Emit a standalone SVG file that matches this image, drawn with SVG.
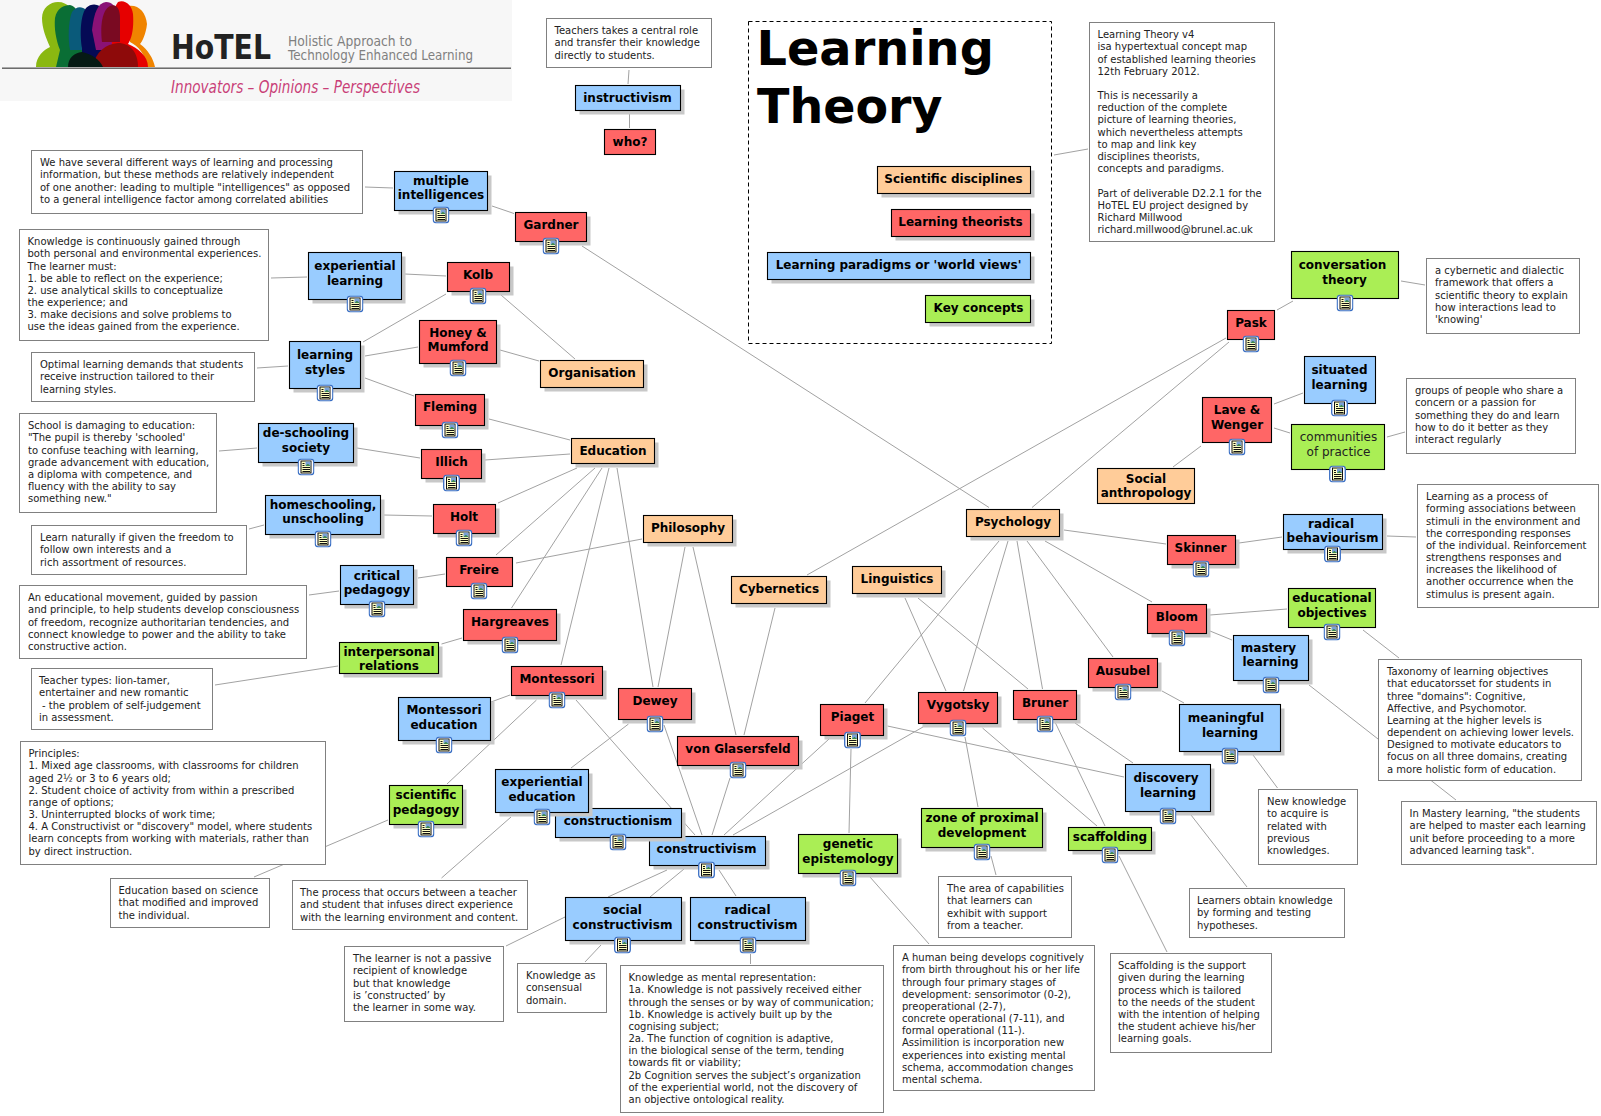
<svg xmlns="http://www.w3.org/2000/svg" width="1601" height="1116" viewBox="0 0 1601 1116">
<style>
text{font-family:"DejaVu Sans","Liberation Sans",sans-serif}
.t{font-size:12px;font-weight:bold;text-anchor:middle;fill:#000}
.tn{font-size:12px;text-anchor:middle;fill:#222}
.x{font-size:10px;fill:#222}
.note{fill:#fff;stroke:#808080;stroke-width:1}
.sh{fill:#c8c8c8}
.b,.r,.o,.g{stroke:#000;stroke-width:1.1}
.b{fill:#99ccff}.r{fill:#ff6666}.o{fill:#ffcc99}.g{fill:#aaee55}
#connectors line{stroke:#a2a2a2;stroke-width:1}
</style>
<defs>
<symbol id="ic" viewBox="0 0 17 17" width="17" height="17">
<rect x="0.7" y="0.7" width="15.6" height="15.6" rx="3" fill="#fff" stroke="#3a6fc4" stroke-width="1.3"/>
<rect x="3.5" y="2.5" width="10" height="12" fill="#ffffc0" stroke="#111" stroke-width="1"/>
<rect x="8" y="3" width="5" height="4.6" fill="#7aa0d8"/>
<path d="M8 7.600l2.400-2.400 2.600 2.400z" fill="#3e8a4a"/>
<path d="M5 5h2M5 7h2M5 9h7.500M5 11h7.500M5 13h7.500" stroke="#111" stroke-width="1"/>
</symbol>
</defs>
<rect width="1601" height="1116" fill="#fff"/>
<g id="logo">
<rect x="0" y="0" width="512" height="101" fill="#f7f7f7"/>
<path d="M36 67C36 56 44 50 50 47C46 38 42 28 42 18C42 8 50 2 58 2C68 2 74 10 74 20L74 67Z" fill="#8ab811"/>
<path d="M56 67L60 50C56 40 54 28 55 18C57 8 64 5 70 5C76 6 80 14 80 24L84 67Z" fill="#0a6e35"/>
<path d="M70 50C68 40 68 22 72 12C76 6 82 6 86 10L92 50Z" fill="#0a5a7a"/>
<path d="M82 67V48C80 36 80 16 86 8C92 2 100 4 104 10L110 67Z" fill="#050a55"/>
<path d="M96 50L92 30C94 12 98 3 106 2C112 2 116 6 116 14L116 50Z" fill="#8a1276"/>
<path d="M128 6C138 4 146 12 147 24C146 34 142 42 140 44C148 50 153 58 155 67H146C146 54 138 46 130 42Z" fill="#f08400"/>
<path d="M112 44C110 30 112 10 118 2C124 -1 132 4 133 14C134 28 132 38 128 44C138 48 148 56 148 67H112Z" fill="#e60000"/>
<path d="M102 42C100 26 102 10 110 6C116 3 120 8 120 18L120 42Z" fill="#7a0a22"/>
<path d="M93 67C95 52 106 44 118 43C130 43 138 52 138 67Z" fill="#8e0a0a"/>
<path d="M68 67C68 58 74 53 82 52C92 54 100 60 103 67Z" fill="#061a14"/>
<rect x="2" y="67.500" width="509" height="1.400" fill="#5c5c5c"/>
<text x="171" y="59" font-family="Lato,'Open Sans',sans-serif" font-size="33" font-weight="bold" fill="#222" textLength="100" lengthAdjust="spacingAndGlyphs">HoTEL</text>
<text x="288" y="46" font-family="'Open Sans',sans-serif" font-size="14" fill="#808080" textLength="124" lengthAdjust="spacingAndGlyphs">Holistic Approach to</text>
<text x="288" y="60" font-family="'Open Sans',sans-serif" font-size="14" fill="#808080" textLength="185" lengthAdjust="spacingAndGlyphs">Technology Enhanced Learning</text>
<text x="171" y="93" font-family="'Open Sans',sans-serif" font-style="italic" font-size="17" fill="#c93f78" textLength="249" lengthAdjust="spacingAndGlyphs">Innovators – Opinions – Perspectives</text>
</g>
<g id="connectors">
<line x1="365" y1="187" x2="393" y2="188"/>
<line x1="492" y1="206" x2="514" y2="213.500"/>
<line x1="582" y1="246" x2="989" y2="507.500"/>
<line x1="405" y1="274" x2="446" y2="276"/>
<line x1="271" y1="278" x2="307" y2="277"/>
<line x1="446" y1="294" x2="363" y2="342"/>
<line x1="501" y1="295" x2="575" y2="359"/>
<line x1="365" y1="356" x2="418" y2="347"/>
<line x1="500" y1="350" x2="539" y2="361"/>
<line x1="365" y1="378" x2="414" y2="396"/>
<line x1="257" y1="368" x2="288" y2="366"/>
<line x1="489" y1="419" x2="570" y2="440"/>
<line x1="219" y1="451" x2="257" y2="448"/>
<line x1="357" y1="448" x2="420" y2="458"/>
<line x1="485" y1="460" x2="570" y2="454"/>
<line x1="249" y1="529" x2="264" y2="525"/>
<line x1="384" y1="515" x2="432" y2="516"/>
<line x1="498" y1="503" x2="577" y2="468"/>
<line x1="496" y1="555" x2="595" y2="468"/>
<line x1="511.500" y1="608" x2="602" y2="468"/>
<line x1="561" y1="665" x2="609" y2="468"/>
<line x1="653" y1="687" x2="617" y2="468"/>
<line x1="516" y1="563" x2="642" y2="539"/>
<line x1="658" y1="687" x2="685" y2="547"/>
<line x1="736" y1="735" x2="693" y2="547"/>
<line x1="744" y1="735" x2="775" y2="608"/>
<line x1="807" y1="575" x2="1226" y2="338"/>
<line x1="1032" y1="507.500" x2="1229" y2="342"/>
<line x1="418" y1="578" x2="445" y2="574"/>
<line x1="309" y1="595" x2="339" y2="591"/>
<line x1="441.500" y1="644" x2="462" y2="638"/>
<line x1="215" y1="685" x2="338" y2="666"/>
<line x1="491" y1="702" x2="510" y2="695"/>
<line x1="447" y1="784" x2="536.500" y2="700"/>
<line x1="254" y1="877" x2="388" y2="820"/>
<line x1="441.500" y1="878" x2="511" y2="817"/>
<line x1="571" y1="768" x2="628.500" y2="724"/>
<line x1="664" y1="725" x2="702" y2="835"/>
<line x1="576" y1="700" x2="695" y2="835"/>
<line x1="730" y1="778" x2="712" y2="835"/>
<line x1="829" y1="739" x2="724" y2="835"/>
<line x1="923" y1="727" x2="733" y2="835"/>
<line x1="608" y1="897" x2="667" y2="870"/>
<line x1="650" y1="897" x2="684" y2="869"/>
<line x1="736" y1="896" x2="719" y2="870"/>
<line x1="506" y1="946" x2="565" y2="917"/>
<line x1="585" y1="962" x2="601" y2="945"/>
<line x1="750.500" y1="964" x2="750.500" y2="954"/>
<line x1="851" y1="749" x2="849" y2="833"/>
<line x1="870" y1="877" x2="929" y2="944"/>
<line x1="965" y1="737" x2="978" y2="807"/>
<line x1="991" y1="856" x2="996" y2="875"/>
<line x1="982.500" y1="728" x2="1097" y2="826"/>
<line x1="1055" y1="722" x2="1105" y2="826"/>
<line x1="1075" y1="723" x2="1133" y2="763"/>
<line x1="887.500" y1="726" x2="1124" y2="777"/>
<line x1="1119" y1="856" x2="1167" y2="952"/>
<line x1="1191" y1="815" x2="1247" y2="887"/>
<line x1="1253" y1="755" x2="1277.500" y2="788"/>
<line x1="1162" y1="691" x2="1184" y2="703"/>
<line x1="1027" y1="541" x2="1113" y2="657"/>
<line x1="1045" y1="541" x2="1152" y2="602"/>
<line x1="1064" y1="530" x2="1166" y2="544"/>
<line x1="1239" y1="543" x2="1282" y2="537"/>
<line x1="1387" y1="536" x2="1416" y2="537"/>
<line x1="1210" y1="615" x2="1287" y2="609"/>
<line x1="1210" y1="631" x2="1232" y2="640"/>
<line x1="1363" y1="630" x2="1399" y2="658"/>
<line x1="1309" y1="685" x2="1456" y2="800"/>
<line x1="1173" y1="467" x2="1201" y2="446"/>
<line x1="1274" y1="404" x2="1303" y2="393"/>
<line x1="1274" y1="428" x2="1290" y2="433"/>
<line x1="1387" y1="437" x2="1405" y2="432"/>
<line x1="1277" y1="310" x2="1293" y2="301"/>
<line x1="1401" y1="281" x2="1425" y2="285"/>
<line x1="1054" y1="155" x2="1088" y2="149"/>
<line x1="629" y1="70" x2="628" y2="84"/>
<line x1="629.500" y1="114" x2="629.500" y2="128"/>
<line x1="999" y1="541" x2="865" y2="703"/>
<line x1="1008" y1="541" x2="963.500" y2="691"/>
<line x1="1017" y1="541" x2="1042.500" y2="689"/>
<line x1="905" y1="598" x2="946" y2="691"/>
<line x1="918" y1="598" x2="1028" y2="689"/>
</g>
<g id="legend">
<rect x="748.500" y="21.500" width="303" height="322" fill="none" stroke="#000" stroke-width="1" stroke-dasharray="4 3"/>
<text x="756.500" y="65" font-size="47.800" font-weight="bold" fill="#000">Learning</text>
<text x="757" y="123" font-size="47.500" font-weight="bold" fill="#000">Theory</text>
</g>
<g id="legend-disciplines"><rect class="sh" x="881.500" y="170.500" width="153" height="27"/><rect class="o" x="877.500" y="166.500" width="153" height="27"/><text class="t" x="953.500" y="183">Scientific disciplines</text></g>
<g id="legend-theorists"><rect class="sh" x="895.500" y="213.500" width="139" height="27"/><rect class="r" x="891.500" y="209.500" width="139" height="27"/><text class="t" x="960.500" y="226">Learning theorists</text></g>
<g id="legend-paradigms"><rect class="sh" x="771.500" y="256.500" width="263" height="27"/><rect class="b" x="767.500" y="252.500" width="263" height="27"/><text class="t" x="898.500" y="269">Learning paradigms or 'world views'</text></g>
<g id="legend-concepts"><rect class="sh" x="929.500" y="299.500" width="105" height="27"/><rect class="g" x="925.500" y="295.500" width="105" height="27"/><text class="t" x="978.500" y="312">Key concepts</text></g>

<g id="note-lt"><rect class="note" x="1089.500" y="22.500" width="185" height="219"/><text class="x" y="22.500"><tspan x="1097.500" dy="15.800">Learning Theory v4</tspan><tspan x="1097.500" dy="12.170">isa hypertextual concept map</tspan><tspan x="1097.500" dy="12.170">of established learning theories</tspan><tspan x="1097.500" dy="12.170">12th February 2012.</tspan><tspan x="1097.500" dy="24.340">This is necessarily a</tspan><tspan x="1097.500" dy="12.170">reduction of the complete</tspan><tspan x="1097.500" dy="12.170">picture of learning theories,</tspan><tspan x="1097.500" dy="12.170">which nevertheless attempts</tspan><tspan x="1097.500" dy="12.170">to map and link key</tspan><tspan x="1097.500" dy="12.170">disciplines theorists,</tspan><tspan x="1097.500" dy="12.170">concepts and paradigms.</tspan><tspan x="1097.500" dy="24.340">Part of deliverable D2.2.1 for the</tspan><tspan x="1097.500" dy="12.170">HoTEL EU project designed by</tspan><tspan x="1097.500" dy="12.170">Richard Millwood</tspan><tspan x="1097.500" dy="12.170">richard.millwood@brunel.ac.uk</tspan></text></g>
<g id="note-teachers"><rect class="note" x="546.500" y="18.500" width="165" height="49"/><text class="x" y="18.500"><tspan x="554.500" dy="15.800">Teachers takes a central role</tspan><tspan x="554.500" dy="12.170">and transfer their knowledge</tspan><tspan x="554.500" dy="12.170">directly to students.</tspan></text></g>
<g id="note-mi"><rect class="note" x="31.500" y="150.500" width="331" height="63"/><text class="x" y="150.500"><tspan x="40" dy="15.800">We have several different ways of learning and processing</tspan><tspan x="40" dy="12.170">information, but these methods are relatively independent</tspan><tspan x="40" dy="12.170">of one another: leading to multiple "intelligences" as opposed</tspan><tspan x="40" dy="12.170">to a general intelligence factor among correlated abilities</tspan></text></g>
<g id="note-exp"><rect class="note" x="19.500" y="229.500" width="249" height="111"/><text class="x" y="229.500"><tspan x="27.500" dy="15.800">Knowledge is continuously gained through</tspan><tspan x="27.500" dy="12.170">both personal and environmental experiences.</tspan><tspan x="27.500" dy="12.170">The learner must:</tspan><tspan x="27.500" dy="12.170">1. be able to reflect on the experience;</tspan><tspan x="27.500" dy="12.170">2. use analytical skills to conceptualize</tspan><tspan x="27.500" dy="12.170">the experience; and</tspan><tspan x="27.500" dy="12.170">3. make decisions and solve problems to</tspan><tspan x="27.500" dy="12.170">use the ideas gained from the experience.</tspan></text></g>
<g id="note-styles"><rect class="note" x="31.500" y="352.500" width="223" height="49"/><text class="x" y="352.500"><tspan x="40" dy="15.800">Optimal learning demands that students</tspan><tspan x="40" dy="12.170">receive instruction tailored to their</tspan><tspan x="40" dy="12.170">learning styles.</tspan></text></g>
<g id="note-school"><rect class="note" x="19.500" y="413.500" width="197" height="99"/><text class="x" y="413.500"><tspan x="28" dy="15.800">School is damaging to education:</tspan><tspan x="28" dy="12.170">"The pupil is thereby 'schooled'</tspan><tspan x="28" dy="12.170">to confuse teaching with learning,</tspan><tspan x="28" dy="12.170">grade advancement with education,</tspan><tspan x="28" dy="12.170">a diploma with competence, and</tspan><tspan x="28" dy="12.170">fluency with the ability to say</tspan><tspan x="28" dy="12.170">something new."</tspan></text></g>
<g id="note-home"><rect class="note" x="31.500" y="525.500" width="215" height="49"/><text class="x" y="525.500"><tspan x="40" dy="15.800">Learn naturally if given the freedom to</tspan><tspan x="40" dy="12.170">follow own interests and a</tspan><tspan x="40" dy="12.170">rich assortment of resources.</tspan></text></g>
<g id="note-critical"><rect class="note" x="19.500" y="585.500" width="287" height="73"/><text class="x" y="585.500"><tspan x="28" dy="15.800">An educational movement, guided by passion</tspan><tspan x="28" dy="12.170">and principle, to help students develop consciousness</tspan><tspan x="28" dy="12.170">of freedom, recognize authoritarian tendencies, and</tspan><tspan x="28" dy="12.170">connect knowledge to power and the ability to take</tspan><tspan x="28" dy="12.170">constructive action.</tspan></text></g>
<g id="note-teacher"><rect class="note" x="31.500" y="668.500" width="181" height="61"/><text class="x" y="668.500"><tspan x="39" dy="15.800">Teacher types: lion-tamer,</tspan><tspan x="39" dy="12.170">entertainer and new romantic</tspan><tspan x="42" dy="12.170">- the problem of self-judgement</tspan><tspan x="39" dy="12.170">in assessment.</tspan></text></g>
<g id="note-principles"><rect class="note" x="20.500" y="741.500" width="305" height="123"/><text class="x" y="741.500"><tspan x="28.500" dy="15.800">Principles:</tspan><tspan x="28.500" dy="12.170">1. Mixed age classrooms, with classrooms for children</tspan><tspan x="28.500" dy="12.170">aged 2½ or 3 to 6 years old;</tspan><tspan x="28.500" dy="12.170">2. Student choice of activity from within a prescribed</tspan><tspan x="28.500" dy="12.170">range of options;</tspan><tspan x="28.500" dy="12.170">3. Uninterrupted blocks of work time;</tspan><tspan x="28.500" dy="12.170">4. A Constructivist or "discovery" model, where students</tspan><tspan x="28.500" dy="12.170">learn concepts from working with materials, rather than</tspan><tspan x="28.500" dy="12.170">by direct instruction.</tspan></text></g>
<g id="note-science"><rect class="note" x="110.500" y="878.500" width="159" height="49"/><text class="x" y="878.500"><tspan x="118.500" dy="15.800">Education based on science</tspan><tspan x="118.500" dy="12.170">that modified and improved</tspan><tspan x="118.500" dy="12.170">the individual.</tspan></text></g>
<g id="note-process"><rect class="note" x="292.500" y="880.500" width="235" height="49"/><text class="x" y="880.500"><tspan x="300" dy="15.800">The process that occurs between a teacher</tspan><tspan x="300" dy="12.170">and student that infuses direct experience</tspan><tspan x="300" dy="12.170">with the learning environment and content.</tspan></text></g>
<g id="note-learner"><rect class="note" x="344.500" y="946.500" width="159" height="75"/><text class="x" y="946.500"><tspan x="353" dy="15.800">The learner is not a passive</tspan><tspan x="353" dy="12.170">recipient of knowledge</tspan><tspan x="353" dy="12.170">but that knowledge</tspan><tspan x="353" dy="12.170">is ’constructed’ by</tspan><tspan x="353" dy="12.170">the learner in some way.</tspan></text></g>
<g id="note-consensual"><rect class="note" x="517.500" y="963.500" width="89" height="49"/><text class="x" y="963.500"><tspan x="526" dy="15.800">Knowledge as</tspan><tspan x="526" dy="12.170">consensual</tspan><tspan x="526" dy="12.170">domain.</tspan></text></g>
<g id="note-mental"><rect class="note" x="620.500" y="965.500" width="263" height="147"/><text class="x" y="965.500"><tspan x="628.500" dy="15.800">Knowledge as mental representation:</tspan><tspan x="628.500" dy="12.170">1a. Knowledge is not passively received either</tspan><tspan x="628.500" dy="12.170">through the senses or by way of communication;</tspan><tspan x="628.500" dy="12.170">1b. Knowledge is actively built up by the</tspan><tspan x="628.500" dy="12.170">cognising subject;</tspan><tspan x="628.500" dy="12.170">2a. The function of cognition is adaptive,</tspan><tspan x="628.500" dy="12.170">in the biological sense of the term, tending</tspan><tspan x="628.500" dy="12.170">towards fit or viability;</tspan><tspan x="628.500" dy="12.170">2b Cognition serves the subject’s organization</tspan><tspan x="628.500" dy="12.170">of the experiential world, not the discovery of</tspan><tspan x="628.500" dy="12.170">an objective ontological reality.</tspan></text></g>
<g id="note-human"><rect class="note" x="893.500" y="945.500" width="201" height="145"/><text class="x" y="945.500"><tspan x="902" dy="15.800">A human being develops cognitively</tspan><tspan x="902" dy="12.170">from birth throughout his or her life</tspan><tspan x="902" dy="12.170">through four primary stages of</tspan><tspan x="902" dy="12.170">development: sensorimotor (0-2),</tspan><tspan x="902" dy="12.170">preoperational (2-7),</tspan><tspan x="902" dy="12.170">concrete operational (7-11), and</tspan><tspan x="902" dy="12.170">formal operational (11-).</tspan><tspan x="902" dy="12.170">Assimilition is incorporation new</tspan><tspan x="902" dy="12.170">experiences into existing mental</tspan><tspan x="902" dy="12.170">schema, accommodation changes</tspan><tspan x="902" dy="12.170">mental schema.</tspan></text></g>
<g id="note-area"><rect class="note" x="938.500" y="876.500" width="133" height="61"/><text class="x" y="876.500"><tspan x="947" dy="15.800">The area of capabilities</tspan><tspan x="947" dy="12.170">that learners can</tspan><tspan x="947" dy="12.170">exhibit with support</tspan><tspan x="947" dy="12.170">from a teacher.</tspan></text></g>
<g id="note-scaffold"><rect class="note" x="1110.500" y="953.500" width="161" height="99"/><text class="x" y="953.500"><tspan x="1118" dy="15.800">Scaffolding is the support</tspan><tspan x="1118" dy="12.170">given during the learning</tspan><tspan x="1118" dy="12.170">process which is tailored</tspan><tspan x="1118" dy="12.170">to the needs of the student</tspan><tspan x="1118" dy="12.170">with the intention of helping</tspan><tspan x="1118" dy="12.170">the student achieve his/her</tspan><tspan x="1118" dy="12.170">learning goals.</tspan></text></g>
<g id="note-discovery"><rect class="note" x="1189.500" y="888.500" width="155" height="49"/><text class="x" y="888.500"><tspan x="1197" dy="15.800">Learners obtain knowledge</tspan><tspan x="1197" dy="12.170">by forming and testing</tspan><tspan x="1197" dy="12.170">hypotheses.</tspan></text></g>
<g id="note-new"><rect class="note" x="1258.500" y="789.500" width="99" height="75"/><text class="x" y="789.500"><tspan x="1267" dy="15.800">New knowledge</tspan><tspan x="1267" dy="12.170">to acquire is</tspan><tspan x="1267" dy="12.170">related with</tspan><tspan x="1267" dy="12.170">previous</tspan><tspan x="1267" dy="12.170">knowledges.</tspan></text></g>
<g id="note-taxonomy"><rect class="note" x="1378.500" y="659.500" width="203" height="121"/><text class="x" y="659.500"><tspan x="1387" dy="15.800">Taxonomy of learning objectives</tspan><tspan x="1387" dy="12.170">that educatorsset for students in</tspan><tspan x="1387" dy="12.170">three "domains": Cognitive,</tspan><tspan x="1387" dy="12.170">Affective, and Psychomotor.</tspan><tspan x="1387" dy="12.170">Learning at the higher levels is</tspan><tspan x="1387" dy="12.170">dependent on achieving lower levels.</tspan><tspan x="1387" dy="12.170">Designed to motivate educators to</tspan><tspan x="1387" dy="12.170">focus on all three domains, creating</tspan><tspan x="1387" dy="12.170">a more holistic form of education.</tspan></text></g>
<g id="note-mastery"><rect class="note" x="1401.500" y="801.500" width="195" height="63"/><text class="x" y="801.500"><tspan x="1409.500" dy="15.800">In Mastery learning, "the students</tspan><tspan x="1409.500" dy="12.170">are helped to master each learning</tspan><tspan x="1409.500" dy="12.170">unit before proceeding to a more</tspan><tspan x="1409.500" dy="12.170">advanced learning task".</tspan></text></g>
<g id="note-behav"><rect class="note" x="1417.500" y="484.500" width="181" height="123"/><text class="x" y="484.500"><tspan x="1426" dy="15.800">Learning as a process of</tspan><tspan x="1426" dy="12.170">forming associations between</tspan><tspan x="1426" dy="12.170">stimuli in the environment and</tspan><tspan x="1426" dy="12.170">the corresponding responses</tspan><tspan x="1426" dy="12.170">of the individual. Reinforcement</tspan><tspan x="1426" dy="12.170">strengthens responses and</tspan><tspan x="1426" dy="12.170">increases the likelihood of</tspan><tspan x="1426" dy="12.170">another occurrence when the</tspan><tspan x="1426" dy="12.170">stimulus is present again.</tspan></text></g>
<g id="note-communities"><rect class="note" x="1406.500" y="378.500" width="169" height="75"/><text class="x" y="378.500"><tspan x="1415" dy="15.800">groups of people who share a</tspan><tspan x="1415" dy="12.170">concern or a passion for</tspan><tspan x="1415" dy="12.170">something they do and learn</tspan><tspan x="1415" dy="12.170">how to do it better as they</tspan><tspan x="1415" dy="12.170">interact regularly</tspan></text></g>
<g id="note-cyber"><rect class="note" x="1426.500" y="258.500" width="153" height="75"/><text class="x" y="258.500"><tspan x="1435" dy="15.800">a cybernetic and dialectic</tspan><tspan x="1435" dy="12.170">framework that offers a</tspan><tspan x="1435" dy="12.170">scientific theory to explain</tspan><tspan x="1435" dy="12.170">how interactions lead to</tspan><tspan x="1435" dy="12.170">'knowing'</tspan></text></g>

<g id="instructivism"><rect class="sh" x="579.500" y="89.500" width="105" height="25"/><rect class="b" x="575.500" y="85.500" width="105" height="25"/><text class="t" x="627.500" y="101.500">instructivism</text></g>
<g id="who"><rect class="r" x="604.500" y="129.500" width="51" height="25"/><text class="t" x="630" y="146">who?</text></g>
<g id="multiple-intelligences"><rect class="sh" x="398.500" y="175.500" width="93" height="39"/><rect class="b" x="394.500" y="171.500" width="93" height="39"/><text class="t" x="441" y="184.500">multiple</text><text class="t" x="441" y="199">intelligences</text><use href="#ic" x="432.500" y="206.500"/></g>
<g id="gardner"><rect class="sh" x="519.500" y="216.500" width="71" height="29"/><rect class="r" x="515.500" y="212.500" width="71" height="29"/><text class="t" x="551" y="229">Gardner</text><use href="#ic" x="542.500" y="237.500"/></g>
<g id="kolb"><rect class="sh" x="451.500" y="266.500" width="62" height="29"/><rect class="r" x="447.500" y="262.500" width="62" height="29"/><text class="t" x="478" y="279">Kolb</text><use href="#ic" x="469.500" y="287.500"/></g>
<g id="experiential-learning"><rect class="sh" x="312.500" y="256.500" width="93" height="47"/><rect class="b" x="308.500" y="252.500" width="93" height="47"/><text class="t" x="355" y="270">experiential</text><text class="t" x="355" y="284.500">learning</text><use href="#ic" x="346.500" y="295.500"/></g>
<g id="learning-styles"><rect class="sh" x="293.500" y="345.500" width="71" height="47"/><rect class="b" x="289.500" y="341.500" width="71" height="47"/><text class="t" x="325" y="359">learning</text><text class="t" x="325" y="373.500">styles</text><use href="#ic" x="316.500" y="384.500"/></g>
<g id="honey"><rect class="sh" x="423.500" y="324.500" width="77" height="43"/><rect class="r" x="419.500" y="320.500" width="77" height="43"/><text class="t" x="458" y="336.500">Honey &amp;</text><text class="t" x="458" y="351">Mumford</text><use href="#ic" x="449.500" y="359.500"/></g>
<g id="fleming"><rect class="sh" x="419.500" y="398.500" width="69" height="31"/><rect class="r" x="415.500" y="394.500" width="69" height="31"/><text class="t" x="450" y="411">Fleming</text><use href="#ic" x="441.500" y="421.500"/></g>
<g id="deschooling"><rect class="sh" x="262.500" y="427.500" width="95" height="39"/><rect class="b" x="258.500" y="423.500" width="95" height="39"/><text class="t" x="306" y="437">de-schooling</text><text class="t" x="306" y="451.500">society</text><use href="#ic" x="297.500" y="458.500"/></g>
<g id="illich"><rect class="sh" x="425.500" y="453.500" width="60" height="29"/><rect class="r" x="421.500" y="449.500" width="60" height="29"/><text class="t" x="451.500" y="466">Illich</text><use href="#ic" x="443" y="474.500"/></g>
<g id="homeschooling"><rect class="sh" x="269.500" y="499.500" width="115" height="39"/><rect class="b" x="265.500" y="495.500" width="115" height="39"/><text class="t" x="323" y="508.500">homeschooling,</text><text class="t" x="323" y="523">unschooling</text><use href="#ic" x="314.500" y="530.500"/></g>
<g id="holt"><rect class="sh" x="437.500" y="508.500" width="62" height="29"/><rect class="r" x="433.500" y="504.500" width="62" height="29"/><text class="t" x="464" y="521">Holt</text><use href="#ic" x="455.500" y="529.500"/></g>
<g id="critical"><rect class="sh" x="344.500" y="569.500" width="73" height="39"/><rect class="b" x="340.500" y="565.500" width="73" height="39"/><text class="t" x="377" y="579.500">critical</text><text class="t" x="377" y="594">pedagogy</text><use href="#ic" x="368.500" y="600.500"/></g>
<g id="freire"><rect class="r" x="446.500" y="557.500" width="66" height="29"/><text class="t" x="479" y="574">Freire</text><use href="#ic" x="470.500" y="582.500"/></g>
<g id="hargreaves"><rect class="sh" x="467.500" y="613.500" width="93" height="31"/><rect class="r" x="463.500" y="609.500" width="93" height="31"/><text class="t" x="510" y="625.500">Hargreaves</text><use href="#ic" x="501.500" y="636.500"/></g>
<g id="interpersonal"><rect class="sh" x="343.500" y="646.500" width="99" height="31"/><rect class="g" x="339.500" y="642.500" width="99" height="31"/><text class="t" x="389" y="655.500">interpersonal</text><text class="t" x="389" y="670">relations</text></g>
<g id="montessori"><rect class="sh" x="515.500" y="670.500" width="91" height="29"/><rect class="r" x="511.500" y="666.500" width="91" height="29"/><text class="t" x="557" y="683">Montessori</text><use href="#ic" x="548.500" y="691.500"/></g>
<g id="montessori-education"><rect class="sh" x="402.500" y="701.500" width="92" height="43"/><rect class="b" x="398.500" y="697.500" width="92" height="43"/><text class="t" x="444" y="714">Montessori</text><text class="t" x="444" y="728.500">education</text><use href="#ic" x="435.500" y="736.500"/></g>
<g id="scientific"><rect class="sh" x="393.500" y="789.500" width="73" height="39"/><rect class="g" x="389.500" y="785.500" width="73" height="39"/><text class="t" x="426" y="799">scientific</text><text class="t" x="426" y="813.500">pedagogy</text><use href="#ic" x="417.500" y="820.500"/></g>
<g id="constructivism"><rect class="sh" x="653.500" y="840.500" width="116" height="29"/><rect class="b" x="649.500" y="836.500" width="116" height="29"/><text class="t" x="706.500" y="853">constructivism</text><use href="#ic" x="698" y="861.500"/></g>
<g id="constructionism"><rect class="sh" x="559.500" y="812.500" width="126" height="29"/><rect class="b" x="555.500" y="808.500" width="126" height="29"/><text class="t" x="618" y="825">constructionism</text><use href="#ic" x="609.500" y="833.500"/></g>
<g id="experiential-education"><rect class="sh" x="499.500" y="773.500" width="93" height="43"/><rect class="b" x="495.500" y="769.500" width="93" height="43"/><text class="t" x="542" y="786">experiential</text><text class="t" x="542" y="800.500">education</text><use href="#ic" x="533.500" y="808.500"/></g>
<g id="social"><rect class="sh" x="569.500" y="901.500" width="116" height="43"/><rect class="b" x="565.500" y="897.500" width="116" height="43"/><text class="t" x="622.500" y="914">social</text><text class="t" x="622.500" y="928.500">constructivism</text><use href="#ic" x="614" y="936.500"/></g>
<g id="radical"><rect class="sh" x="694.500" y="901.500" width="115" height="43"/><rect class="b" x="690.500" y="897.500" width="115" height="43"/><text class="t" x="747.500" y="914">radical</text><text class="t" x="747.500" y="928.500">constructivism</text><use href="#ic" x="739.500" y="936.500"/></g>
<g id="dewey"><rect class="sh" x="622.500" y="692.500" width="73" height="31"/><rect class="r" x="618.500" y="688.500" width="73" height="31"/><text class="t" x="655" y="704.500">Dewey</text><use href="#ic" x="646.500" y="715.500"/></g>
<g id="glasersfeld"><rect class="sh" x="681.500" y="740.500" width="121" height="29"/><rect class="r" x="677.500" y="736.500" width="121" height="29"/><text class="t" x="738" y="753">von Glasersfeld</text><use href="#ic" x="729.500" y="761.500"/></g>
<g id="organisation"><rect class="sh" x="544.500" y="364.500" width="103" height="27"/><rect class="o" x="540.500" y="360.500" width="103" height="27"/><text class="t" x="592" y="377">Organisation</text></g>
<g id="education"><rect class="sh" x="575.500" y="442.500" width="83" height="25"/><rect class="o" x="571.500" y="438.500" width="83" height="25"/><text class="t" x="613" y="455">Education</text></g>
<g id="philosophy"><rect class="sh" x="647.500" y="519.500" width="89" height="27"/><rect class="o" x="643.500" y="515.500" width="89" height="27"/><text class="t" x="688" y="532">Philosophy</text></g>
<g id="cybernetics"><rect class="sh" x="735.500" y="580.500" width="95" height="27"/><rect class="o" x="731.500" y="576.500" width="95" height="27"/><text class="t" x="779" y="593">Cybernetics</text></g>
<g id="linguistics"><rect class="sh" x="856.500" y="570.500" width="89" height="27"/><rect class="o" x="852.500" y="566.500" width="89" height="27"/><text class="t" x="897" y="583">Linguistics</text></g>
<g id="psychology"><rect class="sh" x="970.500" y="513.500" width="93" height="27"/><rect class="o" x="966.500" y="509.500" width="93" height="27"/><text class="t" x="1013" y="526">Psychology</text></g>
<g id="piaget"><rect class="sh" x="824.500" y="708.500" width="63" height="31"/><rect class="r" x="820.500" y="704.500" width="63" height="31"/><text class="t" x="852.500" y="720.500">Piaget</text><use href="#ic" x="844" y="731.500"/></g>
<g id="vygotsky"><rect class="sh" x="922.500" y="696.500" width="79" height="31"/><rect class="r" x="918.500" y="692.500" width="79" height="31"/><text class="t" x="958" y="709">Vygotsky</text><use href="#ic" x="949.500" y="719.500"/></g>
<g id="bruner"><rect class="sh" x="1017.500" y="694.500" width="63" height="29"/><rect class="r" x="1013.500" y="690.500" width="63" height="29"/><text class="t" x="1045" y="707">Bruner</text><use href="#ic" x="1036.500" y="715.500"/></g>
<g id="genetic"><rect class="sh" x="802.500" y="838.500" width="99" height="39"/><rect class="g" x="798.500" y="834.500" width="99" height="39"/><text class="t" x="848" y="848">genetic</text><text class="t" x="848" y="862.500">epistemology</text><use href="#ic" x="839.500" y="869.500"/></g>
<g id="zone"><rect class="sh" x="925.500" y="812.500" width="121" height="39"/><rect class="g" x="921.500" y="808.500" width="121" height="39"/><text class="t" x="982" y="822">zone of proximal</text><text class="t" x="982" y="836.500">development</text><use href="#ic" x="973.500" y="843.500"/></g>
<g id="scaffolding"><rect class="sh" x="1072.500" y="831.500" width="83" height="23"/><rect class="g" x="1068.500" y="827.500" width="83" height="23"/><text class="t" x="1110" y="841">scaffolding</text><use href="#ic" x="1101.500" y="846.500"/></g>
<g id="discovery"><rect class="sh" x="1129.500" y="768.500" width="85" height="47"/><rect class="b" x="1125.500" y="764.500" width="85" height="47"/><text class="t" x="1166" y="781.500">discovery</text><text class="t" x="1168" y="796.500">learning</text><use href="#ic" x="1159.500" y="807.500"/></g>
<g id="meaningful"><rect class="sh" x="1183.500" y="708.500" width="101" height="47"/><rect class="b" x="1179.500" y="704.500" width="101" height="47"/><text class="t" x="1226" y="721.500">meaningful</text><text class="t" x="1230" y="736.500">learning</text><use href="#ic" x="1221.500" y="747.500"/></g>
<g id="ausubel"><rect class="sh" x="1092.500" y="662.500" width="69" height="29"/><rect class="r" x="1088.500" y="658.500" width="69" height="29"/><text class="t" x="1123" y="675">Ausubel</text><use href="#ic" x="1114.500" y="683.500"/></g>
<g id="mastery"><rect class="sh" x="1237.500" y="639.500" width="75" height="45"/><rect class="b" x="1233.500" y="635.500" width="75" height="45"/><text class="t" x="1268.500" y="651.500">mastery</text><text class="t" x="1270.500" y="666">learning</text><use href="#ic" x="1262.500" y="676.500"/></g>
<g id="bloom"><rect class="sh" x="1151.500" y="608.500" width="59" height="29"/><rect class="r" x="1147.500" y="604.500" width="59" height="29"/><text class="t" x="1177" y="620.500">Bloom</text><use href="#ic" x="1168.500" y="629.500"/></g>
<g id="educational-objectives"><rect class="g" x="1288.500" y="588.500" width="87" height="39"/><text class="t" x="1332" y="601.500">educational</text><text class="t" x="1332" y="616.500">objectives</text><use href="#ic" x="1323.500" y="623.500"/></g>
<g id="skinner"><rect class="sh" x="1171.500" y="539.500" width="68" height="29"/><rect class="r" x="1167.500" y="535.500" width="68" height="29"/><text class="t" x="1200.500" y="552">Skinner</text><use href="#ic" x="1192.500" y="560.500"/></g>
<g id="behaviourism"><rect class="sh" x="1287.500" y="518.500" width="99" height="35"/><rect class="b" x="1283.500" y="514.500" width="99" height="35"/><text class="t" x="1331" y="527.500">radical</text><text class="t" x="1332.500" y="542">behaviourism</text><use href="#ic" x="1324" y="545.500"/></g>
<g id="anthropology"><rect class="o" x="1097.500" y="468.500" width="97" height="35"/><text class="t" x="1146" y="482.500">Social</text><text class="t" x="1146" y="497">anthropology</text></g>
<g id="lave"><rect class="r" x="1202.500" y="397.500" width="69" height="45"/><text class="t" x="1237" y="414">Lave &amp;</text><text class="t" x="1237" y="428.500">Wenger</text><use href="#ic" x="1228.500" y="438.500"/></g>
<g id="communities"><rect class="g" x="1291.500" y="424.500" width="93" height="45"/><text class="tn" x="1338.500" y="441">communities</text><text class="tn" x="1338.500" y="455.500">of practice</text><use href="#ic" x="1329" y="465.500"/></g>
<g id="situated"><rect class="b" x="1304.500" y="356.500" width="71" height="47"/><text class="t" x="1339.500" y="374">situated</text><text class="t" x="1339.500" y="388.500">learning</text><use href="#ic" x="1331" y="399.500"/></g>
<g id="pask"><rect class="r" x="1227.500" y="310.500" width="47" height="29"/><text class="t" x="1251" y="327">Pask</text><use href="#ic" x="1242.500" y="335.500"/></g>
<g id="conversation"><rect class="g" x="1291.500" y="251.500" width="107" height="47"/><text class="t" x="1342.500" y="269">conversation</text><text class="t" x="1344.500" y="283.500">theory</text><use href="#ic" x="1336.500" y="294.500"/></g>
</svg>
